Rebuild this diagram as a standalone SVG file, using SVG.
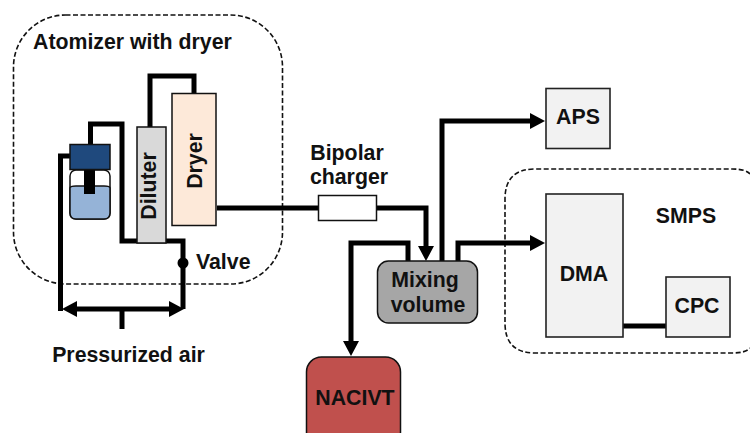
<svg xmlns="http://www.w3.org/2000/svg" width="750" height="433" viewBox="0 0 750 433">
<style>
text{font-family:"Liberation Sans",Arial,sans-serif;font-weight:bold;fill:#111;font-size:21.300px}
.m{text-anchor:middle}
.d{fill:none;stroke:#111;stroke-width:1.600;stroke-dasharray:5 2.500}
.b{fill:#f2f2f2;stroke:#222;stroke-width:1.600}
.w{fill:none;stroke:#000;stroke-width:5}
</style>
<defs>
<marker id="a" markerUnits="userSpaceOnUse" markerWidth="15" markerHeight="16" refX="7" refY="8" orient="auto"><path d="M0 0L15 8L0 16Z" fill="#000"/></marker>
</defs>
<rect width="750" height="433" fill="#fff"/>
<g id="atomizer-group"><rect class="d" x="13.500" y="15" width="269" height="269" rx="52"/><text x="33" y="48.500">Atomizer with dryer</text></g>
<g id="smps-group"><path class="d" d="M750 174Q746 169 732 169H535Q505 169 505 199V323Q505 353 535 353H732Q746 353 750 348"/><text class="m" x="686" y="223">SMPS</text></g>
<g id="connectors">
<path class="w" d="M150 127V76H194V93"/>
<path class="w" d="M90.500 145V124H122V241H183V309"/>
<path class="w" d="M70 156H60.500V311"/>
<path class="w" d="M122 309H70" marker-end="url(#a)"/>
<path class="w" d="M122 309H176" marker-end="url(#a)"/>
<path class="w" d="M122 309V329"/>
<path class="w" d="M217 208H318"/>
<path class="w" d="M377 208H426V253" marker-end="url(#a)"/>
<path class="w" d="M442 262V121H537" marker-end="url(#a)"/>
<path class="w" d="M458 262V243H537" marker-end="url(#a)"/>
<path class="w" d="M408 262V243H351V348" marker-end="url(#a)"/>
<path class="w" d="M623 326H666"/>
</g>
<g id="atomizer">
<rect x="70" y="170" width="40" height="49" rx="6" fill="#fff" stroke="#111" stroke-width="1.500"/>
<path d="M70 188Q70 186 76 186H104Q110 186 110 188V213Q110 219 104 219H76Q70 219 70 213Z" fill="#95b3d7" stroke="#111" stroke-width="1.500"/>
<rect x="84" y="168" width="11" height="26" fill="#000"/>
<rect x="70" y="144.500" width="40" height="25" fill="#1f497d" stroke="#111" stroke-width="1.500"/>
</g>
<g id="diluter"><rect x="137" y="127" width="29" height="116" fill="#d9d9d9" stroke="#111" stroke-width="1.500"/><text class="m" transform="translate(156 186) rotate(-90)">Diluter</text></g>
<g id="dryer"><rect x="172" y="93.500" width="44" height="132" fill="#fde9d9" stroke="#111" stroke-width="1.500"/><text class="m" transform="translate(201.500 161) rotate(-90)">Dryer</text></g>
<g id="valve"><circle cx="183" cy="263" r="5.500" fill="#000"/><text x="196" y="268.500">Valve</text></g>
<g id="pressurized-air"><text class="m" x="128.500" y="361.500">Pressurized air</text></g>
<g id="bipolar-charger"><rect x="318.500" y="195.500" width="58" height="25" fill="#fff" stroke="#111" stroke-width="1.500"/><text class="m" x="347" y="160">Bipolar</text><text class="m" x="349" y="184">charger</text></g>
<g id="mixing-volume"><rect x="377.500" y="261" width="100" height="62" rx="11" fill="#a6a6a6" stroke="#111" stroke-width="1.500"/><text class="m" x="425" y="287">Mixing</text><text class="m" x="428" y="312">volume</text></g>
<g id="nacivt"><rect x="306.500" y="357" width="94" height="90" rx="15" fill="#c0504d" stroke="#111" stroke-width="1.500"/><text class="m" x="355" y="405">NACIVT</text></g>
<g id="aps"><rect class="b" x="546" y="88.500" width="64" height="60"/><text class="m" x="578" y="124">APS</text></g>
<g id="dma"><rect class="b" x="546" y="194" width="77" height="143"/><text class="m" x="584" y="281">DMA</text></g>
<g id="cpc"><rect class="b" x="666" y="277" width="64" height="60"/><text class="m" x="697" y="313">CPC</text></g>
</svg>
